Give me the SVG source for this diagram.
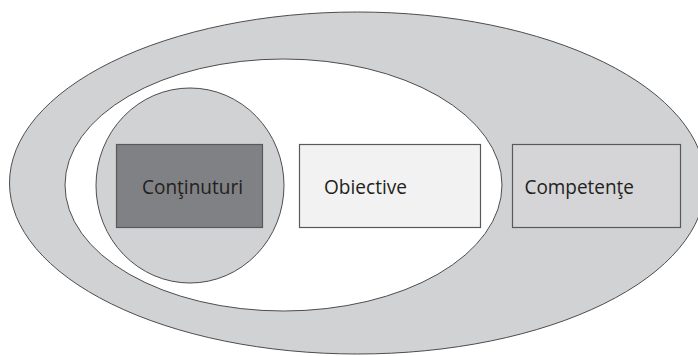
<svg xmlns="http://www.w3.org/2000/svg" width="698" height="356" viewBox="0 0 698 356">
  <style>
    .ring { stroke: #4d4d4f; stroke-width: 1; }
    .box { stroke: #58595b; stroke-width: 1.2; }
    .label { font-family: "Open Sans", "Noto Sans", "Liberation Sans", sans-serif; font-size: 19.5px; fill: #231f20; }
  </style>
  <rect width="698" height="356" fill="#ffffff"/>

  <!-- nested areas: competences contain objectives, which contain contents -->
  <g id="competente-area">
    <ellipse class="ring" cx="357.5" cy="183" rx="348" ry="171" fill="#d1d2d4"/>
  </g>
  <g id="obiective-area">
    <ellipse class="ring" cx="283.5" cy="185" rx="218.5" ry="126" fill="#ffffff"/>
  </g>
  <g id="continuturi-area">
    <ellipse class="ring" cx="190" cy="185.5" rx="94" ry="97.5" fill="#d1d2d4"/>
  </g>

  <g id="continuturi">
    <rect class="box" x="116.5" y="144.5" width="146" height="83" fill="#808184"/>
    <text class="label" x="142" y="194" textLength="101" lengthAdjust="spacingAndGlyphs">Conţinuturi</text>
  </g>
  <g id="obiective">
    <rect class="box" x="299.5" y="144.5" width="181" height="83" fill="#f2f2f2"/>
    <text class="label" x="324" y="194" textLength="83" lengthAdjust="spacingAndGlyphs">Obiective</text>
  </g>
  <g id="competente">
    <rect class="box" x="512.5" y="144.5" width="168" height="83" fill="#d5d5d7"/>
    <text class="label" x="524.5" y="194" textLength="109.5" lengthAdjust="spacingAndGlyphs">Competenţe</text>
  </g>

  <g id="connectors"></g>
</svg>
